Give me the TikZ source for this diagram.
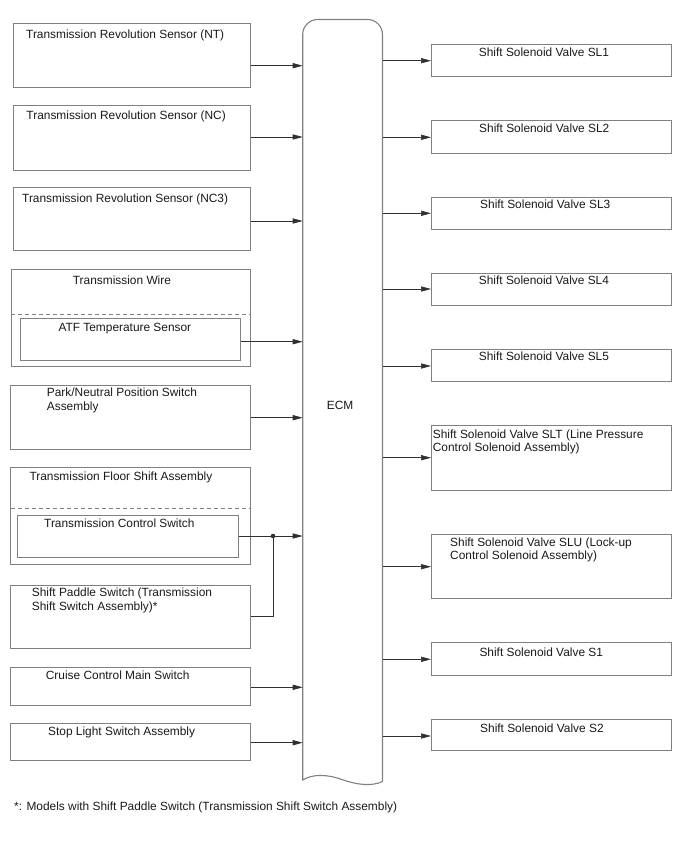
\documentclass[tikz,border=0pt]{standalone}
\usepackage{fontspec}
\setmainfont{Liberation Sans}
\usetikzlibrary{arrows.meta}
\definecolor{boxgray}{HTML}{808080}
\definecolor{linegray}{HTML}{303030}
\newcommand\mkbox[5]{\node[box, anchor=north west, minimum width=#4-#2, minimum height=#5-#3] (#1) at (#2,#3) {};}
\begin{document}
\begin{tikzpicture}[x=1pt,y=-1pt,
  box/.style={draw=boxgray, line width=0.9pt, rectangle, inner sep=0pt, outer sep=0pt},
  lbl/.style={inner sep=0pt, anchor=base west, font=\fontsize{11.9}{13.5}\selectfont, text=black!90},
  conn/.style={draw=linegray, line width=0.7pt},
  arr/.style={conn, -{Triangle[length=10pt,width=5.2pt]}},
  dsh/.style={draw=boxgray, line width=0.8pt, dash pattern=on 4pt off 3pt},
  ecmline/.style={draw=boxgray, line width=1.1pt}]
\useasboundingbox (0,0) rectangle (688,852);

% ---- left boxes
\mkbox{nt}{13.7}{23.3}{250.7}{87.3}
\mkbox{nc}{13.7}{105}{250.7}{170}
\mkbox{nc3}{13.7}{187.3}{250.7}{250.7}
\mkbox{tw}{11}{269.3}{250.7}{366.7}
\mkbox{atf}{20.7}{318.7}{240.7}{360}
\mkbox{pn}{10.7}{385}{250.7}{449}
\mkbox{tfs}{10.7}{467.7}{250.7}{564.3}
\mkbox{tcs}{17.7}{515.3}{238.7}{557}
\mkbox{spd}{10.7}{585}{250.7}{648.7}
\mkbox{ccm}{10.7}{667.3}{250.7}{705}
\mkbox{sls}{10.7}{723.3}{250.7}{760.7}

\draw[dsh] (tw.west |- 0,314) -- (tw.east |- 0,314);
\draw[dsh] (tfs.west |- 0,508) -- (tfs.east |- 0,508);

% ---- right boxes
\mkbox{sl1}{431}{44.3}{671.7}{76.3}
\mkbox{sl2}{431}{120.7}{671.7}{153}
\mkbox{sl3}{431}{197.3}{671.7}{229}
\mkbox{sl4}{431}{273.7}{671.7}{305.3}
\mkbox{sl5}{431}{349.7}{671.7}{381.3}
\mkbox{slt}{431}{425.7}{671.7}{490}
\mkbox{slu}{431}{534}{671.7}{598.7}
\mkbox{s1}{431}{642.7}{671.7}{675}
\mkbox{s2}{431}{719.3}{671.7}{750.7}

% ---- ECM
\node[inner sep=0pt, outer sep=0pt, anchor=north west, minimum width=79.8, minimum height=761] (ecm) at (302.7,19.5) {};
\draw[ecmline] (302.7,780) -- (302.7,34.5)
  .. controls (302.7,26.2) and (309.4,19.5) .. (317.7,19.5)
  -- (367.5,19.5)
  .. controls (375.8,19.5) and (382.5,26.2) .. (382.5,34.5)
  -- (382.5,781.5)
  .. controls (372,786.5) and (357,785) .. (342,779.5)
  .. controls (328,774.5) and (313,773.5) .. (302.7,780) -- cycle;
\node[lbl] (ecmlbl) at (326.7,409) {ECM};

% ---- labels
\node[lbl] (tnt) at (26,38) {Transmission Revolution Sensor (NT)};
\node[lbl] (tnc) at (26.3,119.5) {Transmission Revolution Sensor (NC)};
\node[lbl] (tnc3) at (22,202.3) {Transmission Revolution Sensor (NC3)};
\node[lbl] (ttw) at (72.7,284) {Transmission Wire};
\node[lbl] (tatf) at (58.3,331.7) {ATF Temperature Sensor};
\node[lbl] (tpn1) at (46.7,396.7) {Park/Neutral Position Switch};
\node[lbl] (tpn2) at (46.7,410.7) {Assembly};
\node[lbl] (ttfs) at (29.3,480) {Transmission Floor Shift Assembly};
\node[lbl] (ttcs) at (44,527.7) {Transmission Control Switch};
\node[lbl] (tspd1) at (31.7,596.7) {Shift Paddle Switch (Transmission};
\node[lbl] (tspd2) at (31.7,610.7) {Shift Switch Assembly)*};
\node[lbl] (tccm) at (45.7,679) {Cruise Control Main Switch};
\node[lbl] (tsls) at (48,735) {Stop Light Switch Assembly};

\node[lbl] (tsl1) at (478.7,56.7) {Shift Solenoid Valve SL1};
\node[lbl] (tsl2) at (479,132.7) {Shift Solenoid Valve SL2};
\node[lbl] (tsl3) at (480,208.3) {Shift Solenoid Valve SL3};
\node[lbl] (tsl4) at (478.7,284.3) {Shift Solenoid Valve SL4};
\node[lbl] (tsl5) at (478.7,360) {Shift Solenoid Valve SL5};
\node[lbl] (tslt1) at (432.7,438.3) {Shift Solenoid Valve SLT (Line Pressure};
\node[lbl] (tslt2) at (432.7,451) {Control Solenoid Assembly)};
\node[lbl] (tslu1) at (450,546.7) {Shift Solenoid Valve SLU (Lock-up};
\node[lbl] (tslu2) at (450,559.3) {Control Solenoid Assembly)};
\node[lbl] (ts1) at (479.3,656) {Shift Solenoid Valve S1};
\node[lbl] (ts2) at (480,732.3) {Shift Solenoid Valve S2};

\node[lbl] (foot) at (14,810.7) {*: Models with Shift Paddle Switch (Transmission Shift Switch Assembly)};

% ---- input connectors
\draw[arr] (nt.east |- 0,65.7) -- (ecm.west |- 0,65.7);
\draw[arr] (nc.east |- 0,137) -- (ecm.west |- 0,137);
\draw[arr] (nc3.east |- 0,221) -- (ecm.west |- 0,221);
\draw[arr] (atf.east |- 0,341.7) -- (ecm.west |- 0,341.7);
\draw[arr] (pn.east |- 0,417.7) -- (ecm.west |- 0,417.7);
\coordinate (j) at (273,536);
\draw[conn] (tcs.east |- j) -- (j);
\draw[arr] (j) -- (ecm.west |- j);
\draw[conn] (spd.east |- 0,616.3) -| (j);
\fill[linegray] (j) circle (2.3pt);
\draw[arr] (ccm.east |- 0,687.3) -- (ecm.west |- 0,687.3);
\draw[arr] (sls.east |- 0,742.7) -- (ecm.west |- 0,742.7);

% ---- output connectors
\draw[arr] (ecm.east |- 0,60.7) -- (sl1.west |- 0,60.7);
\draw[arr] (ecm.east |- 0,137.3) -- (sl2.west |- 0,137.3);
\draw[arr] (ecm.east |- 0,213.3) -- (sl3.west |- 0,213.3);
\draw[arr] (ecm.east |- 0,289) -- (sl4.west |- 0,289);
\draw[arr] (ecm.east |- 0,366) -- (sl5.west |- 0,366);
\draw[arr] (ecm.east |- 0,457.7) -- (slt.west |- 0,457.7);
\draw[arr] (ecm.east |- 0,566.7) -- (slu.west |- 0,566.7);
\draw[arr] (ecm.east |- 0,659.3) -- (s1.west |- 0,659.3);
\draw[arr] (ecm.east |- 0,736) -- (s2.west |- 0,736);
\end{tikzpicture}
\end{document}
